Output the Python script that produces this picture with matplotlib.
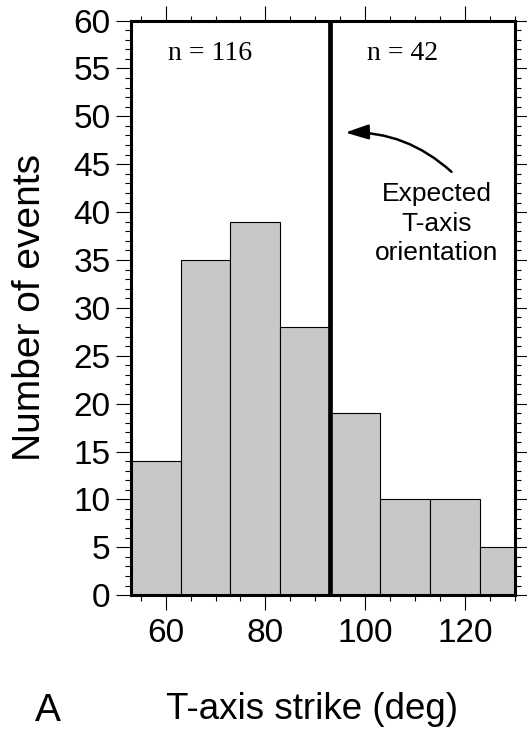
import matplotlib
matplotlib.use("Agg")
import matplotlib.pyplot as plt
import numpy as np
from matplotlib.ticker import MultipleLocator

# Data
bin_edges = [53, 63, 73, 83, 93, 103, 113, 123, 133]
counts = [14, 35, 39, 28, 19, 10, 10, 5]
expected_strike = 93
x_ticks = [60, 80, 100, 120]
y_ticks = [0, 5, 10, 15, 20, 25, 30, 35, 40, 45, 50, 55, 60]
n_left_label = "n = 116"
n_right_label = "n = 42"

plt.rcParams['font.family'] = ['Liberation Sans', 'DejaVu Sans']

fig = plt.figure(figsize=(5.27, 7.33), dpi=100)
ax = fig.add_axes([0.248, 0.188, 0.729, 0.784])

lefts = bin_edges[:-1]
widths = np.diff(bin_edges)
ax.bar(lefts, counts, width=widths, align='edge', color='#c8c8c8',
       edgecolor='black', linewidth=0.8, zorder=2)

ax.axvline(expected_strike, color='black', linewidth=3.4, zorder=3)

ax.set_xlim(53, 130)
ax.set_ylim(0, 60)
ax.set_xticks(x_ticks)
ax.set_yticks(y_ticks)
ax.xaxis.set_minor_locator(MultipleLocator(5))
ax.yaxis.set_minor_locator(MultipleLocator(1))

for s in ax.spines.values():
    s.set_linewidth(2.2)
    s.set_zorder(5)

ax.tick_params(axis='both', which='major', direction='out', length=10.5,
               width=0.8, labelsize=24, top=True, right=True)
ax.tick_params(axis='both', which='minor', direction='out', length=4.5,
               width=0.8, top=True, right=True)
ax.tick_params(axis='y', which='major', right=True, labelright=False, pad=4)
ax.tick_params(axis='x', which='major', pad=6)
for t in ax.yaxis.get_major_ticks():
    t.tick2line.set_markersize(8.5)
for t in ax.xaxis.get_minor_ticks():
    t.tick2line.set_markersize(3.8)

ax.set_ylabel("Number of events", fontsize=28)
ax.yaxis.set_label_coords(-0.215, 0.5)
ax.set_xlabel("T-axis strike (deg)", fontsize=26.5)
ax.xaxis.set_label_coords(0.472, -0.168)

ax.text(69, 55.9, n_left_label, ha='center', va='baseline', fontsize=20,
        family=['Liberation Serif', 'DejaVu Serif'])
ax.text(107.4, 55.9, n_right_label, ha='center', va='baseline', fontsize=20,
        family=['Liberation Serif', 'DejaVu Serif'])

ax.annotate("", xy=(96.0, 48.3), xytext=(117.3, 44.2),
            arrowprops=dict(arrowstyle="-|>,head_length=1.4,head_width=0.45",
                            color='black', linewidth=1.8,
                            connectionstyle="arc3,rad=0.2",
                            shrinkA=0, shrinkB=0))
ax.text(114.3, 38.8, "Expected\nT-axis\norientation", ha='center', va='center',
        fontsize=19, linespacing=1.3)

fig.text(0.091, 0.016, "A", fontsize=28, ha='center', va='baseline')

fig.savefig("out.png", dpi=100)
